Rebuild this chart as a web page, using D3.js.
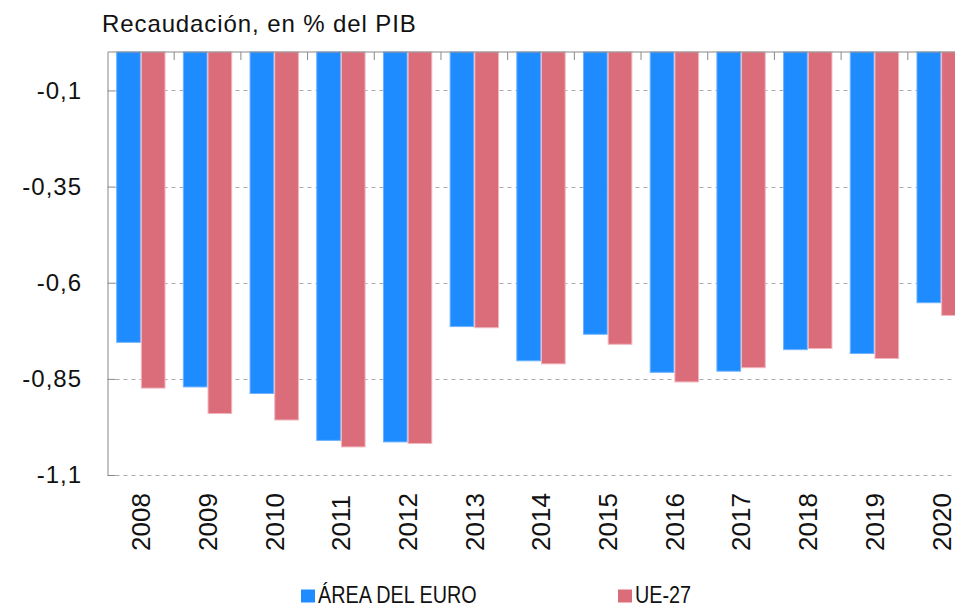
<!DOCTYPE html>
<html>
<head>
<meta charset="utf-8">
<script src="https://cdn.jsdelivr.net/npm/d3@7"></script>
<style>
  body { margin: 0; background: #fff; }
  svg { display: block; font-family: "Liberation Sans", Arial, sans-serif; }
</style>
</head>
<body>
<svg id="chart" width="955" height="607"></svg>
<script>
// data
const years = ["2008","2009","2010","2011","2012","2013","2014","2015","2016","2017","2018","2019","2020"];
const euroArea = [-0.755,-0.871,-0.888,-1.010,-1.014,-0.714,-0.803,-0.734,-0.833,-0.830,-0.774,-0.784,-0.652];
const eu27 = [-0.874,-0.940,-0.957,-1.027,-1.018,-0.717,-0.811,-0.760,-0.858,-0.821,-0.771,-0.797,-0.685];
const seriesNames = ["ÁREA DEL EURO","UE-27"];
const seriesColors = ["#1e8bff","#db6c79"];
const seriesStrokes = ["#6db2ff","#f1b6be"];
const yTicks = [-0.1,-0.35,-0.6,-0.85,-1.1];
const yTickLabels = ["-0,1","-0,35","-0,6","-0,85","-1,1"];

const svg = d3.select("#chart");
const plotLeft = 107.5, plotTop = 52, plotBottom = 475;

const x = d3.scaleBand().domain(years).range([plotLeft, 974.5])
  .paddingInner(0.26).paddingOuter(0.13);
const xs = d3.scaleBand().domain(seriesNames).range([0, x.bandwidth()]);
const y = d3.scaleLinear().domain([0, -1.1]).range([plotTop, plotBottom]);

// title
svg.append("text").attr("x", 102).attr("y", 32)
  .attr("font-size", 24).attr("letter-spacing", 0.9).attr("fill", "#111")
  .text("Recaudación, en % del PIB");

// dashed grid
svg.append("g").selectAll("line").data(yTicks).enter().append("line")
  .attr("x1", plotLeft + 8).attr("x2", 955)
  .attr("y1", d => Math.round(y(d)) + 0.5).attr("y2", d => Math.round(y(d)) + 0.5)
  .attr("stroke", "#aaa").attr("stroke-dasharray", "4,4");

// bars
const rows = years.map((yr, i) => ({year: yr, vals: [euroArea[i], eu27[i]]}));
const grp = svg.append("g").selectAll("g").data(rows).enter().append("g")
  .attr("transform", d => `translate(${x(d.year)},0)`);
grp.selectAll("rect").data(d => d.vals.map((v, j) => ({v, j}))).enter().append("rect")
  .attr("x", d => xs(seriesNames[d.j]) + 0.5)
  .attr("width", xs.bandwidth() - 1)
  .attr("y", y(0))
  .attr("height", d => y(d.v) - y(0))
  .attr("fill", d => seriesColors[d.j])
  .attr("stroke", d => seriesStrokes[d.j])
  .attr("stroke-width", 1);

// left axis
const yAxis = svg.append("g").attr("transform", `translate(${plotLeft},0)`)
  .call(d3.axisLeft(y).tickValues(yTicks).tickSizeInner(-8).tickSizeOuter(0)
    .tickPadding(25.5).tickFormat((d, i) => yTickLabels[i]));
yAxis.select(".domain").attr("stroke", "#888");
yAxis.selectAll(".tick line").attr("stroke", "#888");
yAxis.selectAll(".tick text").attr("font-size", 24).attr("letter-spacing", 1)
  .attr("fill", "#111").attr("font-family", "Liberation Sans, Arial, sans-serif");

// top axis line with ticks between groups
svg.append("line").attr("x1", plotLeft).attr("x2", 955).attr("y1", plotTop).attr("y2", plotTop)
  .attr("stroke", "#888");
const step = x.step();
svg.append("g").selectAll("line").data(years.slice(1)).enter().append("line")
  .attr("x1", d => x(d) - (step - x.bandwidth()) / 2)
  .attr("x2", d => x(d) - (step - x.bandwidth()) / 2)
  .attr("y1", plotTop).attr("y2", plotTop + 8).attr("stroke", "#888");

// year labels
svg.append("g").selectAll("text").data(years).enter().append("text")
  .attr("transform", d => `translate(${x(d) + x.bandwidth() / 2},551) rotate(-90)`)
  .attr("dy", "0.36em").attr("font-size", 26).attr("fill", "#111")
  .text(d => d);

// legend (condensed look via horizontal squeeze)
const legendX = [301, 618];
seriesNames.forEach((name, i) => {
  svg.append("rect").attr("x", legendX[i]).attr("y", 589.5).attr("width", 14).attr("height", 13)
    .attr("fill", seriesColors[i]);
  svg.append("text")
    .attr("transform", `translate(${legendX[i] + 17},603) scale(0.86,1)`)
    .attr("font-size", 23).attr("fill", "#111").text(name);
});
</script>
</body>
</html>
